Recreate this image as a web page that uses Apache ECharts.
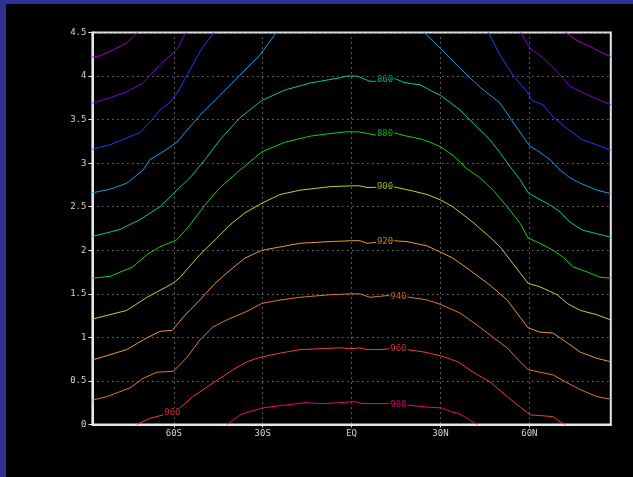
<!DOCTYPE html>
<html>
<head>
<meta charset="utf-8">
<script src="https://cdn.jsdelivr.net/npm/echarts@6/dist/echarts.min.js"></script>
<style>
  html, body { margin: 0; padding: 0; width: 633px; height: 477px; overflow: hidden; background: #2e3192; }
  #panel { position: absolute; left: 6px; top: 4px; right: 0; bottom: 0; background: #000; }
  #chart { position: absolute; left: 0; top: 0; width: 633px; height: 477px; }
</style>
</head>
<body>
<div id="panel"></div>
<div id="chart"></div>
<script>
// Latitude axis ticks and their names
const latTicks = [-60, -30, 0, 30, 60];
const latNames = ['60S', '30S', 'EQ', '30N', '60N'];
const latRange = [-87.5, 87.5];
const yRange = [0, 4.5];
const yStep = 0.5;

// Contour levels, each as one or more [latitude, height] polylines
const levels = [780, 800, 820, 840, 860, 880, 900, 920, 940, 960, 980];
const levelColors = ['#a000c8', '#8200dc', '#1e3cff', '#109ee8', '#00c8a0', '#10d010',
                     '#a0e032', '#e89a30', '#e07828', '#f03c3c', '#f00082'];

const c780 = [
  [[-87.5, 4.22], [-85, 4.23], [-80.6, 4.30], [-75.9, 4.38], [-72.4, 4.5]],
  [[72.1, 4.5], [76.1, 4.41], [80.5, 4.34], [83.9, 4.28], [87.5, 4.22]]
];
const c800 = [
  [[-87.5, 3.69], [-81.6, 3.75], [-75.9, 3.82], [-70.4, 3.92], [-64.7, 4.13], [-60.3, 4.26], [-58.5, 4.33], [-56.0, 4.5]],
  [[57.1, 4.5], [60.2, 4.32], [64.6, 4.21], [69.4, 4.05], [73.8, 3.88], [78.1, 3.81], [83.9, 3.72], [87.5, 3.67]]
];
const c820 = [
  [[-87.5, 3.16], [-81.6, 3.21], [-75.9, 3.29], [-71.5, 3.35], [-68.1, 3.47], [-64.7, 3.61], [-61.3, 3.70],
   [-58.6, 3.82], [-54.6, 4.07], [-51.2, 4.28], [-46.5, 4.5]],
  [[46.2, 4.5], [50.1, 4.24], [54.5, 4.01], [59.2, 3.82], [60.9, 3.72], [64.6, 3.67], [68, 3.53],
   [72.7, 3.40], [77.7, 3.27], [82.8, 3.21], [87.5, 3.15]]
];
const c840 = [
  [[-87.5, 2.66], [-81.6, 2.70], [-75.9, 2.77], [-70.4, 2.92], [-68.1, 3.04], [-63.7, 3.13], [-59, 3.24],
   [-51.2, 3.55], [-44.4, 3.78], [-37.7, 4.01], [-31, 4.24], [-25.4, 4.5]],
  [[24.5, 4.5], [29.9, 4.32], [36.6, 4.09], [43.4, 3.87], [50.1, 3.69], [54.5, 3.47], [58.6, 3.27],
   [60.3, 3.19], [62.5, 3.15], [67.0, 3.04], [70.4, 2.92], [73.8, 2.83], [77.2, 2.77], [82.8, 2.69], [87.5, 2.65]]
];
const c860 = [
  [[-87.5, 2.16], [-82.6, 2.20], [-78.2, 2.24], [-71.5, 2.35], [-64.7, 2.50], [-59, 2.69], [-54.6, 2.83],
   [-49.5, 3.04], [-44.4, 3.27], [-37.7, 3.52], [-30.3, 3.72], [-22.5, 3.84], [-14, 3.92], [-7.3, 3.96],
   [-3.9, 3.98], [-1.6, 4.00], [1.8, 4.00], [6.2, 3.94], [8.6, 3.94], [14.7, 3.97], [17.4, 3.93],
   [20.7, 3.91], [23.1, 3.90], [27.5, 3.82], [29.9, 3.78], [33.2, 3.70], [36.6, 3.61], [46.7, 3.27],
   [50.1, 3.12], [53.5, 2.96], [56.9, 2.81], [59.6, 2.66], [62.6, 2.60], [67.0, 2.52], [70.4, 2.44],
   [73.8, 2.32], [78.1, 2.23], [82.8, 2.19], [87.5, 2.15]]
];
const c880 = [
  [[-87.5, 1.68], [-81.6, 1.70], [-73.8, 1.81], [-69.1, 1.95], [-64.7, 2.04], [-59, 2.12], [-54.6, 2.29],
   [-49.5, 2.52], [-44.4, 2.72], [-37.7, 2.92], [-30.3, 3.13], [-22.5, 3.24], [-14, 3.31], [-7.3, 3.34],
   [-1.6, 3.36], [2.2, 3.36], [8.6, 3.32], [14, 3.35], [18.7, 3.31], [23.1, 3.28], [26.5, 3.24],
   [29.9, 3.19], [34.2, 3.09], [38.8, 2.94], [43.4, 2.83], [47.8, 2.69], [52.5, 2.50], [56.9, 2.31],
   [59.6, 2.14], [63.6, 2.08], [68.0, 2.00], [71.4, 1.92], [74.8, 1.81], [79.6, 1.75], [83.9, 1.69], [87.5, 1.68]]
];
const c900 = [
  [[-87.5, 1.21], [-75.9, 1.31], [-69.1, 1.46], [-64.7, 1.54], [-60.3, 1.62], [-57.9, 1.69], [-51.2, 1.95],
   [-46.1, 2.12], [-41.1, 2.29], [-36, 2.43], [-30.3, 2.54], [-24.2, 2.64], [-17.4, 2.69], [-7.3, 2.73],
   [0, 2.74], [2.8, 2.74], [5.2, 2.72], [14, 2.73], [20.7, 2.68], [25.5, 2.64], [29.9, 2.58], [34.2, 2.50],
   [41.0, 2.32], [46.7, 2.15], [50.1, 2.04], [53.5, 1.89], [56.9, 1.74], [59.6, 1.62], [63.6, 1.58],
   [69.4, 1.49], [72.8, 1.39], [77.2, 1.31], [82.8, 1.26], [87.5, 1.20]]
];
const c920 = [
  [[-87.5, 0.74], [-75.9, 0.86], [-70.4, 0.97], [-64.7, 1.07], [-60.6, 1.08], [-59.6, 1.12], [-55.6, 1.28],
   [-54.6, 1.31], [-51.2, 1.43], [-46.1, 1.62], [-41.1, 1.77], [-36, 1.91], [-30.3, 2.00], [-17.4, 2.08],
   [-7.3, 2.10], [0, 2.11], [2.8, 2.11], [5.2, 2.08], [14, 2.11], [18.7, 2.10], [25.5, 2.05], [29.9, 1.98],
   [34.2, 1.91], [40.0, 1.77], [46.7, 1.60], [52.5, 1.43], [56.9, 1.23], [59.6, 1.11], [63.6, 1.06],
   [68.0, 1.05], [72.7, 0.94], [77.2, 0.83], [82.8, 0.76], [87.5, 0.72]]
];
const c940 = [
  [[-87.5, 0.28], [-82.6, 0.32], [-74.8, 0.42], [-70.4, 0.53], [-65.7, 0.60], [-60.3, 0.61], [-59.0, 0.65],
   [-55.6, 0.77], [-51.2, 0.97], [-46.8, 1.12], [-42.1, 1.20], [-35.3, 1.30], [-30.3, 1.39], [-24, 1.43],
   [-17.4, 1.46], [-7.3, 1.49], [0, 1.50], [2.8, 1.50], [6.2, 1.46], [12, 1.48], [19.7, 1.46], [25.5, 1.43],
   [29.9, 1.38], [36.6, 1.28], [42.4, 1.14], [47.8, 1.00], [52.5, 0.88], [56.9, 0.72], [59.6, 0.63],
   [63.6, 0.60], [68.0, 0.57], [72.7, 0.48], [77.2, 0.40], [82.8, 0.32], [87.5, 0.29]]
];
const c960 = [
  [[-72.5, 0], [-68.1, 0.07], [-63.7, 0.11], [-61.3, 0.12], [-57.9, 0.19], [-53.6, 0.32], [-48.8, 0.43],
   [-44.4, 0.53], [-40.0, 0.63], [-35.3, 0.72], [-31.0, 0.77], [-24, 0.82], [-17.4, 0.86], [-10.7, 0.87],
   [-3.9, 0.88], [0, 0.87], [2.8, 0.88], [5.2, 0.86], [9.6, 0.86], [13, 0.87], [18.7, 0.86], [24.8, 0.83],
   [29.9, 0.79], [35.9, 0.72], [41.0, 0.60], [46.7, 0.49], [52.5, 0.32], [56.9, 0.20], [60.3, 0.11],
   [64.6, 0.10], [68.0, 0.09], [70.4, 0.03], [72.1, 0]]
];
const c980 = [
  [[-42.1, 0], [-37.7, 0.11], [-34.3, 0.15], [-29.9, 0.19], [-23.2, 0.22], [-15.7, 0.25], [-9.7, 0.24],
   [-3.9, 0.25], [-0.5, 0.26], [1.8, 0.26], [3.5, 0.24], [13.0, 0.24], [19.7, 0.22], [25.5, 0.20],
   [30.5, 0.19], [34.2, 0.14], [35.9, 0.13], [37.6, 0.10], [42.4, 0]]
];
const contours = [c780, c800, c820, c840, c860, c880, c900, c920, c940, c960, c980];

// Where each contour carries its value label: [level, latitude]
const labelSpots = [[860, 11.3], [880, 11.3], [900, 11.3], [920, 11.3],
                    [940, 15.8], [960, 15.8], [980, 15.8], [960, -60.5]];

// Height of a contour at a given latitude, read along its polyline
function heightAt(segs, lat) {
  for (const seg of segs) {
    for (let i = 0; i < seg.length - 1; i++) {
      const a = seg[i], b = seg[i + 1];
      if (lat >= a[0] && lat <= b[0]) {
        const t = (lat - a[0]) / (b[0] - a[0]);
        return a[1] + t * (b[1] - a[1]);
      }
    }
  }
  return null;
}

const series = [];
contours.forEach((segs, k) => {
  segs.forEach(seg => {
    series.push({
      type: 'line', data: seg, symbol: 'none', silent: true, z: 3,
      lineStyle: { color: levelColors[k], width: 1 }
    });
  });
});

// Contour value labels, each on a black patch that breaks its line
series.push({
  type: 'scatter', symbol: 'rect', symbolSize: 1, silent: true, z: 5,
  itemStyle: { color: 'rgba(0,0,0,0)' },
  data: labelSpots.map(([lev, lat]) => {
    const k = levels.indexOf(lev);
    return {
      value: [lat, heightAt(contours[k], lat)],
      label: {
        show: true, position: 'inside', formatter: String(lev),
        color: levelColors[k], fontFamily: 'DejaVu Sans Mono', fontSize: 9,
        backgroundColor: '#000', padding: [0, 1]
      }
    };
  })
});

const axisText = { color: '#d4d4d4', fontFamily: 'DejaVu Sans Mono', fontSize: 9 };
const gridDots = { color: '#b0b0b0', width: 1, type: [1, 4] };
const frameLine = { color: '#e6e6e6', width: 2 };

const chart = echarts.init(document.getElementById('chart'), null, { renderer: 'canvas' });
chart.setOption({
  backgroundColor: 'transparent',
  animation: false,
  grid: { left: 92.4, right: 22.2, top: 32.5, bottom: 52.5, show: true,
          borderColor: '#e6e6e6', borderWidth: 2, backgroundColor: 'transparent' },
  xAxis: {
    type: 'value', min: latRange[0], max: latRange[1],
    axisLine: { show: true, onZero: false, lineStyle: frameLine },
    axisTick: { show: true, customValues: latTicks, length: 3, lineStyle: { color: '#e6e6e6' } },
    axisLabel: Object.assign({ customValues: latTicks, margin: 5,
      formatter: v => latNames[latTicks.indexOf(v)] }, axisText),
    splitLine: { show: true, lineStyle: gridDots }
  },
  yAxis: {
    type: 'value', min: yRange[0], max: yRange[1], interval: yStep,
    axisLine: { show: true, onZero: false, lineStyle: frameLine },
    axisTick: { show: true, length: 4, lineStyle: { color: '#e6e6e6' } },
    axisLabel: Object.assign({ margin: 6, formatter: v => String(v) }, axisText),
    splitLine: { show: true, lineStyle: gridDots }
  },
  series: series
});
</script>
</body>
</html>
